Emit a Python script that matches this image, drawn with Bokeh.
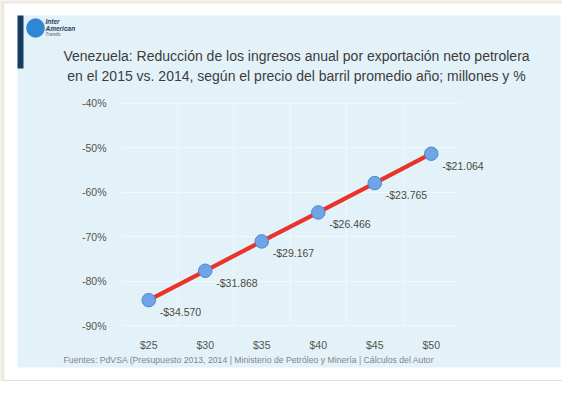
from bokeh.plotting import figure
from bokeh.models import (BoxAnnotation, Label, Range1d, FixedTicker,
                          NumeralTickFormatter, PrintfTickFormatter, ColumnDataSource)
from bokeh.core.properties import value
from bokeh.embed import file_html
from bokeh.resources import INLINE

# ---- data ----
prices = [25, 30, 35, 40, 45, 50]                      # barrel price, US$
pct_change = [-84.3, -77.7, -71.1, -64.6, -58.0, -51.4]  # % reduction vs 2014
loss_musd = [-34570, -31868, -29167, -26466, -23765, -21064]  # millions US$
y_ticks = [-90, -80, -70, -60, -50, -40]
title_lines = ["Venezuela: Reducción de los ingresos anual por exportación neto petrolera",
               "en el 2015 vs. 2014, según el precio del barril promedio año; millones y %"]
footer = "Fuentes: PdVSA (Presupuesto 2013, 2014 | Ministerio de Petróleo y Minería |  Cálculos del Autor"

labels = ["-$" + f"{abs(v):,}".replace(",", ".") for v in loss_musd]

FONT = "Liberation Sans"
W, H = 562, 381
# plot area in canvas pixels
PL, PR, PT, PB = 120, 459, 102.5, 325
X0, X1, Y0, Y1 = 22.5, 52.5, -90, -40
sx = (PR - PL) / (X1 - X0)
sy = (PB - PT) / (Y1 - Y0)

p = figure(width=W, height=H, output_backend="svg", toolbar_location=None,
           x_range=Range1d(X0 - PL / sx, X1 + (W - PR) / sx),
           y_range=Range1d(Y0 - (H - PB) / sy, Y1 + PT / sy),
           min_border=0)
p.border_fill_color = "#efeae0"
p.background_fill_color = "#efeae0"
p.outline_line_color = None


def cbox(l, r, t, b, **kw):
    return BoxAnnotation(left=l, right=r, top=t, bottom=b,
                         left_units="canvas", right_units="canvas",
                         top_units="canvas", bottom_units="canvas",
                         line_alpha=0, level="image", **kw)


# white card with shadow
p.add_layout(cbox(4, W, 380, H, fill_color="#9a968e", fill_alpha=1))
p.add_layout(cbox(4, W, 3, 380, fill_color="white", fill_alpha=1))
# light-blue panel and navy bar
p.add_layout(cbox(17, 560, 15, 367, fill_color="#e3f2f8", fill_alpha=1))
p.add_layout(cbox(17, 23, 15, 68, fill_color="#173a63", fill_alpha=1))
# logo globe
p.add_layout(BoxAnnotation(left=26, right=44, top=18, bottom=37, border_radius=9,
                           left_units="canvas", right_units="canvas",
                           top_units="canvas", bottom_units="canvas",
                           fill_color="#2f86d6", fill_alpha=1, line_color="#1d5f9f",
                           line_width=1, level="image"))
for t, yy, s, c in [("Inter", 21, "6.5px", "#2c3e58"), ("American", 28, "6.5px", "#2c3e58"),
                    ("Trends", 34, "4.5px", "#7a8390")]:
    p.add_layout(Label(x=45, y=yy, x_units="canvas", y_units="canvas", text=t,
                       text_font=FONT, text_font_size=s, text_font_style="bold italic",
                       text_color=c, text_baseline="middle", text_align="left"))

# title & footer
for i, line in enumerate(title_lines):
    p.add_layout(Label(x=296, y=55 + i * 20, x_units="canvas", y_units="canvas",
                       text=line, text_font=FONT, text_font_size="14px",
                       text_color="#3c3c3c", text_align="center", text_baseline="middle"))
p.add_layout(Label(x=63, y=359, x_units="canvas", y_units="canvas", text=footer,
                   text_font=FONT, text_font_size="8.7px", text_color="#858585",
                   text_align="left", text_baseline="middle"))

# plot area outline
p.add_layout(BoxAnnotation(left=X0, right=X1, top=Y1, bottom=Y0, fill_alpha=0,
                           line_color="#f0f8fb", line_width=1, level="underlay"))

# axes, placed at the plot-area edges
p.xaxis.fixed_location = Y0
p.yaxis.fixed_location = X0
p.xaxis.ticker = FixedTicker(ticks=prices)
p.xaxis.formatter = NumeralTickFormatter(format="$0")
p.yaxis.ticker = FixedTicker(ticks=y_ticks)
p.yaxis.formatter = PrintfTickFormatter(format="%d%%")
for ax in (p.xaxis, p.yaxis):
    ax.axis_line_color = None
    ax.major_tick_line_color = None
    ax.minor_tick_line_color = None
    ax.major_label_text_font = FONT
    ax.major_label_text_font_size = "10.5px"
    ax.major_label_text_color = "#55554c"
p.xaxis.major_label_standoff = 7
p.yaxis.major_label_standoff = 8

p.xgrid.ticker = FixedTicker(ticks=[27.5, 32.5, 37.5, 42.5, 47.5])
p.xgrid.cross_bounds = (Y0, Y1)
p.ygrid.cross_bounds = (X0, X1)
p.xgrid.grid_line_color = "#f0f8fb"
p.ygrid.grid_line_color = "#f0f8fb"

src = ColumnDataSource(dict(x=prices, y=pct_change, lab=labels))
p.line("x", "y", source=src, line_color="#e8342a", line_width=4.2)
p.scatter("x", "y", source=src, size=13.5, fill_color="#6fa5e6",
          line_color="#4f86cc", line_width=1)
p.text("x", "y", text="lab", source=src, x_offset=11, y_offset=12,
       text_font=value(FONT), text_font_size="10.5px", text_color="#4a4a42",
       text_baseline="middle", text_align="left")

open("out.html", "w").write(file_html(p, INLINE))
